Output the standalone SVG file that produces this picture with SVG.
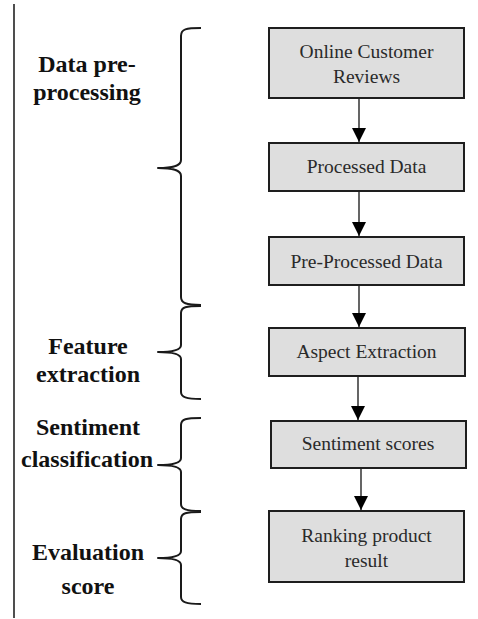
<svg xmlns="http://www.w3.org/2000/svg" width="478" height="619" viewBox="0 0 478 619">
  <style>
    .box { fill: #dedede; stroke: #1e1e1e; stroke-width: 2; }
    .btxt { font-family: 'Liberation Serif', 'Times New Roman', Tinos, 'DejaVu Serif', serif; font-size: 19.5px; fill: #2a2a2a; text-anchor: middle; }
    .ltxt { font-family: 'Liberation Serif', 'Times New Roman', Tinos, 'DejaVu Serif', serif; font-size: 24px; font-weight: bold; fill: #111; text-anchor: middle; }
    .brace { fill: none; stroke: #1a1a1a; stroke-width: 2; stroke-linejoin: round; }
    .conn { stroke: #555; stroke-width: 1.8; fill: none; marker-end: url(#head); }
  </style>
  <defs>
    <marker id="head" markerUnits="userSpaceOnUse" markerWidth="16" markerHeight="15" refX="14" refY="7" orient="auto">
      <path d="M0,0 L14,7 L0,14 Z" fill="#000"/>
    </marker>
  </defs>

  <rect width="478" height="619" fill="#fff"/>

  <!-- left margin rule -->
  <line x1="14" y1="4" x2="14" y2="618" stroke="#222" stroke-width="1.6"/>

  <!-- stage labels with braces -->
  <g id="stage-preprocessing">
    <path class="brace" d="M201,28 C186,28 181,29 181,36 L181,160 C181,165 176,168 158,168 C176,168 181,171 181,176 L181,297 C181,303 186,305 201,305"/>
    <text class="ltxt" x="87" y="72">Data pre-</text>
    <text class="ltxt" x="87" y="100">processing</text>
  </g>
  <g id="stage-feature">
    <path class="brace" d="M201,306 C186,306 181,307 181,313 L181,345 C181,349 176,352 158,352 C176,352 181,355 181,359 L181,392 C181,397 186,399 201,399"/>
    <text class="ltxt" x="88" y="354">Feature</text>
    <text class="ltxt" x="88" y="382">extraction</text>
  </g>
  <g id="stage-sentiment">
    <path class="brace" d="M201,418 C186,418 181,419 181,425 L181,458 C181,462 176,465 158,465 C176,465 181,468 181,472 L181,504 C181,509 186,511 201,511"/>
    <text class="ltxt" x="88" y="435">Sentiment</text>
    <text class="ltxt" x="87" y="467">classification</text>
  </g>
  <g id="stage-evaluation">
    <path class="brace" d="M201,512 C186,512 181,513 181,519 L181,551 C181,555 176,558 158,558 C176,558 181,561 181,565 L181,597 C181,602 186,604 201,604"/>
    <text class="ltxt" x="88" y="560">Evaluation</text>
    <text class="ltxt" x="88" y="594">score</text>
  </g>

  <!-- process steps -->
  <g id="online-reviews">
    <rect class="box" x="269" y="28" width="195" height="70"/>
    <text class="btxt" x="366.5" y="58">Online Customer</text>
    <text class="btxt" x="366.5" y="83">Reviews</text>
  </g>
  <g id="processed-data">
    <rect class="box" x="269" y="143" width="195" height="48"/>
    <text class="btxt" x="366.5" y="173">Processed Data</text>
  </g>
  <g id="pre-processed-data">
    <rect class="box" x="269" y="237" width="195" height="48"/>
    <text class="btxt" x="366.5" y="268">Pre-Processed Data</text>
  </g>
  <g id="aspect-extraction">
    <rect class="box" x="269" y="328" width="196" height="48"/>
    <text class="btxt" x="366.5" y="358">Aspect Extraction</text>
  </g>
  <g id="sentiment-scores">
    <rect class="box" x="271" y="421" width="195" height="47"/>
    <text class="btxt" x="368" y="450">Sentiment scores</text>
  </g>
  <g id="ranking-result">
    <rect class="box" x="269" y="511" width="195" height="71"/>
    <text class="btxt" x="366.5" y="542">Ranking product</text>
    <text class="btxt" x="366.5" y="567">result</text>
  </g>

  <!-- connectors -->
  <g id="connectors">
    <line class="conn" x1="359" y1="99" x2="359" y2="142"/>
    <line class="conn" x1="359" y1="192" x2="359" y2="236"/>
    <line class="conn" x1="359" y1="286" x2="359" y2="327"/>
    <line class="conn" x1="358" y1="377" x2="358" y2="420"/>
    <line class="conn" x1="361" y1="469" x2="361" y2="510"/>
  </g>
</svg>
